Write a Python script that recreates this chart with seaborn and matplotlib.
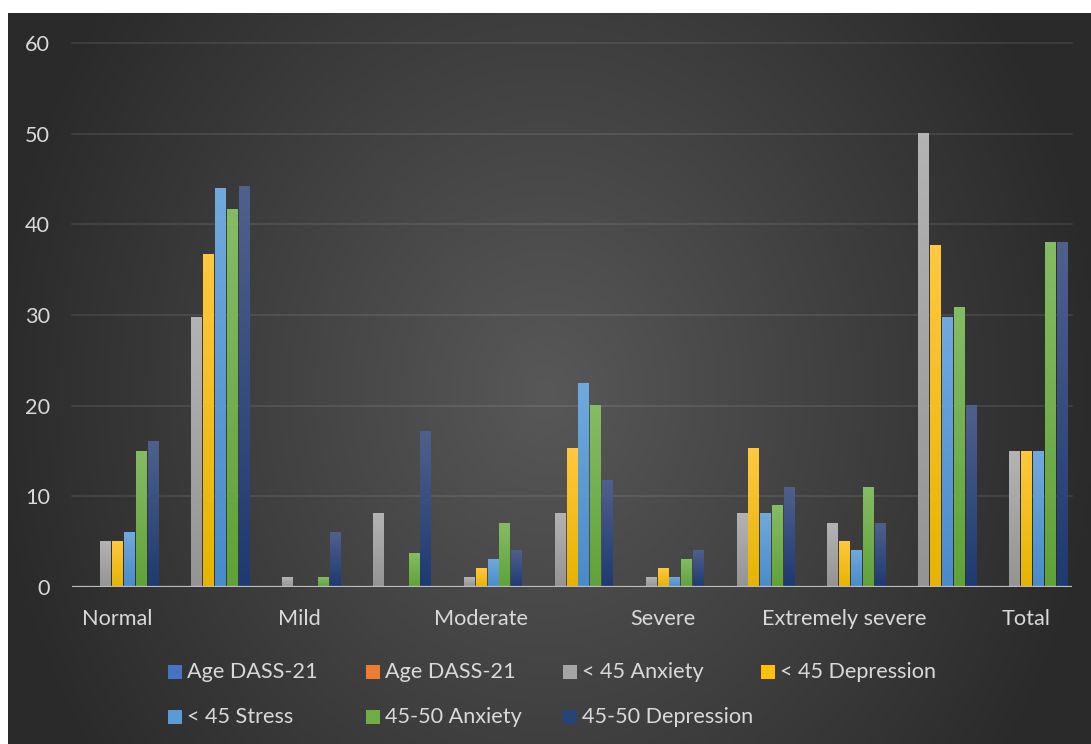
import numpy as np
import pandas as pd
import matplotlib
matplotlib.use("Agg")
import matplotlib.pyplot as plt
import seaborn as sns
from matplotlib.colors import LinearSegmentedColormap
from matplotlib.patches import Rectangle

# ---------------- data ----------------
categories = ["Normal", "", "Mild", "", "Moderate", "", "Severe", "",
              "Extremely severe", "", "Total"]
series = ["Age DASS-21", "Age DASS-21", "< 45 Anxiety", "< 45 Depression",
          "< 45 Stress", "45-50 Anxiety", "45-50 Depression"]

age_dass_1 = [0, 0, 0, 0, 0, 0, 0, 0, 0, 0, 0]
age_dass_2 = [0, 0, 0, 0, 0, 0, 0, 0, 0, 0, 0]
lt45_anxiety = [5, 29.7, 1, 8.1, 1, 8.1, 1, 8.1, 7, 50, 15]
lt45_depression = [5, 36.7, 0, 0, 2, 15.3, 2, 15.3, 5, 37.7, 15]
lt45_stress = [6, 43.9, 0, 0, 3, 22.4, 1, 8.1, 4, 29.7, 15]
a4550_anxiety = [15, 41.6, 1, 3.7, 7, 20, 3, 9, 11, 30.8, 38]
a4550_depression = [16, 44.2, 6, 17.2, 4, 11.8, 4, 11, 7, 20, 38]

y_ticks = [0, 10, 20, 30, 40, 50, 60]

# ---------------- styling ----------------
base_colors = ["#4472C4", "#ED7D31", "#A5A5A5", "#FFC000", "#5B9BD5", "#70AD47", "#264478"]
top_colors = ["#5A85D0", "#F4914F", "#B3B3B3", "#FFC83E", "#70A9DD", "#85BC63", "#4F608D"]
bot_colors = ["#3A64B0", "#D86A1C", "#949494", "#E6B400", "#498BCB", "#60A238", "#1E3A72"]
text_color = "#D9D9D9"
fs = 15.6

W, H = 1091, 744
sns.set_theme(style="dark")
plt.rcParams["font.family"] = ["Lato", "DejaVu Sans"]

values = [age_dass_1, age_dass_2, lt45_anxiety, lt45_depression,
          lt45_stress, a4550_anxiety, a4550_depression]
keys = [f"S{i}" for i in range(len(series))]
rows = []
for k, vals in zip(keys, values):
    for ci, v in enumerate(vals):
        rows.append({"cat": ci, "series": k, "value": v})
df = pd.DataFrame(rows)

fig = plt.figure(figsize=(W / 100, H / 100), dpi=100, facecolor="white")

# background (radial gradient)
bg = fig.add_axes([8 / W, 0, 1 - 8 / W, 1 - 13 / H], zorder=-5)
bh, bw = 183, 271
yy, xx = np.mgrid[0:bh, 0:bw]
px = xx * (W - 8) / bw
py = yy * (H - 13) / bh
r = np.sqrt(((px - 537) / 560) ** 2 + ((py - 377) / 650) ** 2)
lv = (0x58 - (0x58 - 0x2A) * np.clip(r, 0, 1)) / 255.0
bg.imshow(np.dstack([lv, lv, lv]), aspect="auto", interpolation="bilinear")
bg.set_axis_off()

ax = fig.add_axes([72 / W, (H - 587) / H, 1000 / W, 544 / H], zorder=0)
ax.set_facecolor("none")

sns.barplot(data=df, x="cat", y="value", hue="series", hue_order=keys,
            order=list(range(len(categories))),
            palette=dict(zip(keys, base_colors)), saturation=1,
            width=0.915, gap=0.09, errorbar=None, legend=False, ax=ax)

grad = np.linspace(1, 0, 64).reshape(-1, 1)
for i, cont in enumerate(ax.containers):
    cmap = LinearSegmentedColormap.from_list(f"g{i}", [bot_colors[i], top_colors[i]])
    for bar in cont:
        h = bar.get_height()
        bar.set_visible(False)
        if h <= 0:
            continue
        x0, w = bar.get_x(), bar.get_width()
        ax.imshow(grad, extent=(x0, x0 + w, 0, h), cmap=cmap, vmin=0, vmax=1,
                  aspect="auto", interpolation="bilinear", zorder=3)

ax.set_xlim(-0.5, len(categories) - 0.5)
ax.set_ylim(0, 60)
ax.set_yticks(y_ticks)
ax.set_yticklabels([str(t) for t in y_ticks])
ax.set_xticks(range(len(categories)))
ax.set_xticklabels(categories)
ax.set_xlabel("")
ax.set_ylabel("")
for s in ax.spines.values():
    s.set_visible(False)
ax.grid(False)
for t in y_ticks[1:]:
    ax.axhline(t, color=(1, 1, 1, 0.09), lw=1.4, zorder=1, clip_on=False)
ax.axhline(0, color="#BDBDBD", lw=1.6, zorder=4)
ax.tick_params(axis="both", length=0, colors=text_color, labelsize=fs)
ax.tick_params(axis="y", pad=16)
ax.tick_params(axis="x", pad=16)

# legend (Excel style grid: 4 columns)
for i, (lab, col) in enumerate(zip(series, base_colors)):
    rrow, ccol = divmod(i, 4)
    sx = 168 + 197.7 * ccol
    cy = 672 + 45 * rrow
    fig.patches.append(Rectangle((sx / W, 1 - (cy + 7) / H), 14 / W, 14 / H,
                                 transform=fig.transFigure, facecolor=col,
                                 edgecolor="none"))
    fig.text((sx + 19) / W, 1 - cy / H, lab, color=text_color, fontsize=fs,
             ha="left", va="center")

fig.savefig("out.png", dpi=100, facecolor="white")
